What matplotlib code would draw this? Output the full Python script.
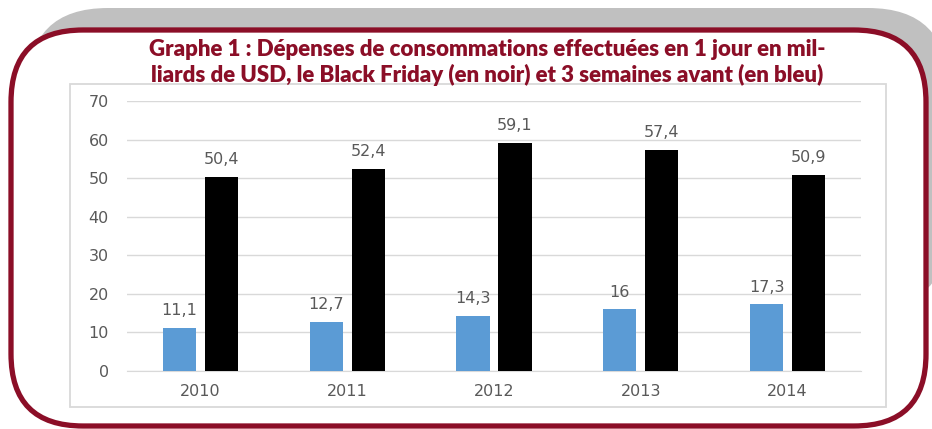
import matplotlib
matplotlib.use("Agg")
from matplotlib import pyplot as plt
from matplotlib.patches import FancyBboxPatch, Rectangle
import numpy as np

annees = ["2010", "2011", "2012", "2013", "2014"]
avant = [11.1, 12.7, 14.3, 16, 17.3]          # 3 semaines avant (bleu)
black_friday = [50.4, 52.4, 59.1, 57.4, 50.9]  # Black Friday (noir)
yticks = [0, 10, 20, 30, 40, 50, 60, 70]

titre1 = "Graphe 1 : Dépenses de consommations effectuées en 1 jour en mil-"
titre2 = "liards de USD, le Black Friday (en noir) et 3 semaines avant (en bleu)"

rouge = "#8B0E27"
gris_txt = "#595959"

fig = plt.figure(figsize=(9.32, 4.29), dpi=100)

# fond en pixels
bg = fig.add_axes([0, 0, 1, 1])
bg.set_xlim(0, 932)
bg.set_ylim(429, 0)
bg.axis("off")

ombre = FancyBboxPatch((28, 8), 920, 300, boxstyle="round,pad=0,rounding_size=80",
                       facecolor="#C0C0C0", edgecolor="none")
bg.add_patch(ombre)
cadre = FancyBboxPatch((11, 30), 915, 396, boxstyle="round,pad=0,rounding_size=72",
                       facecolor="white", edgecolor=rouge, linewidth=3.8)
bg.add_patch(cadre)
bg.add_patch(Rectangle((70, 84), 816, 323, facecolor="white", edgecolor="#D9D9D9", linewidth=1.3))

bg.text(487, 49, titre1, ha="center", va="center", color=rouge, fontsize=16,
        fontweight="heavy", family="Lato")
bg.text(487, 75, titre2, ha="center", va="center", color=rouge, fontsize=16,
        fontweight="heavy", family="Lato")

# graphique
ax = fig.add_axes([127 / 932, 58 / 429, 734 / 932, 270 / 429])
ax.set_zorder(2)
ax.patch.set_alpha(0)

x = np.arange(len(annees))
w = 0.225
b1 = ax.bar(x - 0.143, avant, w, color="#5B9BD5", zorder=3)
b2 = ax.bar(x + 0.143, black_friday, w, color="black", zorder=3)

for bars, vals in ((b1, avant), (b2, black_friday)):
    for r, v in zip(bars, vals):
        lab = ("%g" % v).replace(".", ",")
        ax.annotate(lab, (r.get_x() + r.get_width() / 2, v), xytext=(0, 7),
                    textcoords="offset points", ha="center", va="bottom",
                    fontsize=11.5, color=gris_txt)

ax.set_xlim(-0.5, 4.5)
ax.set_ylim(0, 70)
ax.set_yticks(yticks)
ax.set_xticks(x)
ax.set_xticklabels(annees)
ax.tick_params(axis="both", length=0, labelsize=11.5, labelcolor=gris_txt)
ax.tick_params(axis="y", pad=13)
ax.tick_params(axis="x", pad=9)
ax.grid(axis="y", color="#D9D9D9", linewidth=1, zorder=0)
for s in ("top", "right", "left"):
    ax.spines[s].set_visible(False)
ax.spines["bottom"].set_color("#D9D9D9")
ax.spines["bottom"].set_zorder(1)

fig.savefig("out.png", dpi=100)
